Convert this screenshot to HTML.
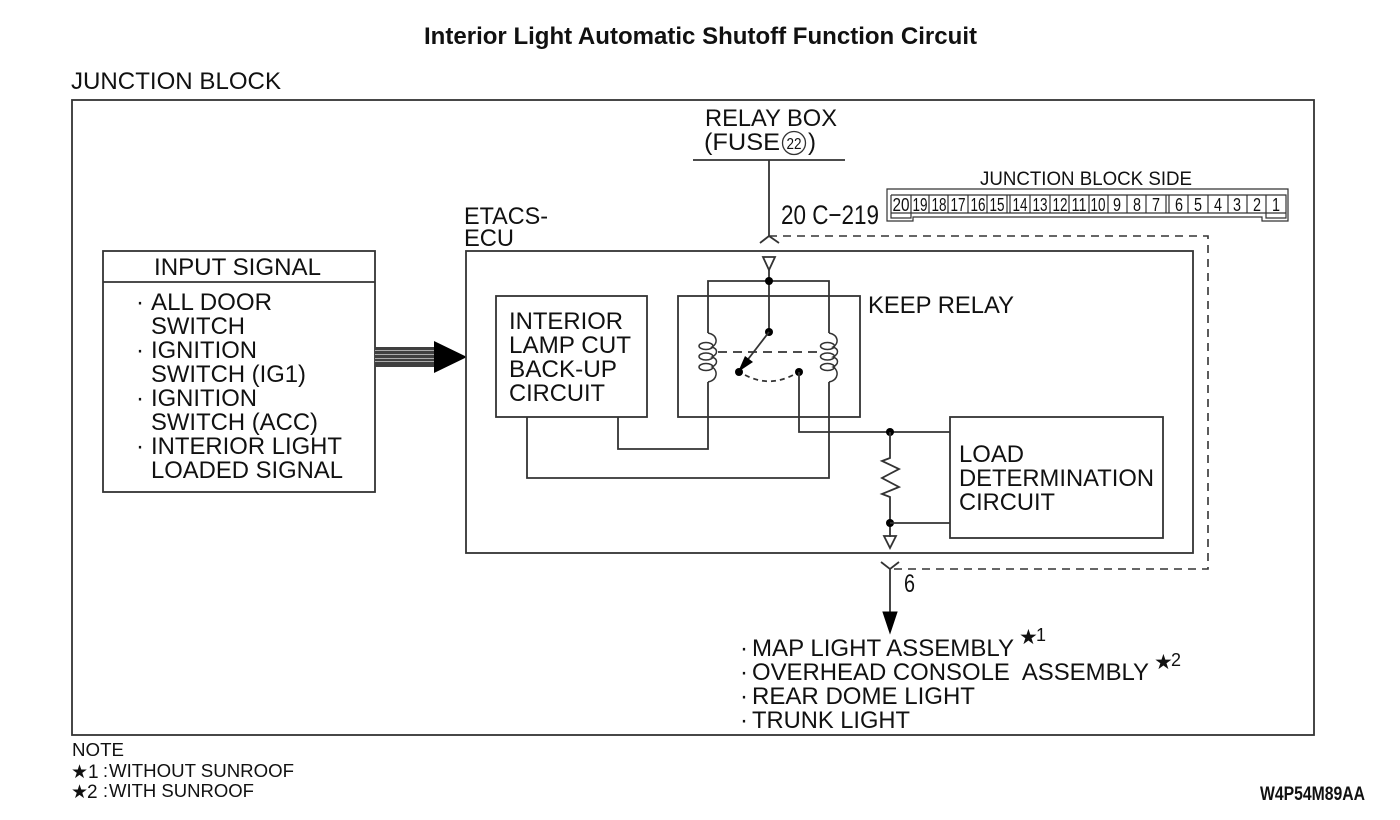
<!DOCTYPE html>
<html><head><meta charset="utf-8"><style>
html,body{margin:0;padding:0;background:#fff;width:1400px;height:820px;overflow:hidden}
svg{display:block}
text{font-family:"Liberation Sans",sans-serif;fill:#111}
.n{font-size:24px}
.s{font-size:19px}
.c{font-size:18px;text-anchor:middle}
.l{fill:none;stroke:#333;stroke-width:1.8}
.d{fill:none;stroke:#333;stroke-width:1.6;stroke-dasharray:8 6}
.st{font-family:"DejaVu Sans",sans-serif;fill:#111}
</style></head><body>
<svg width="1400" height="820" viewBox="0 0 1400 820" xmlns="http://www.w3.org/2000/svg">
<text x="424" y="44" font-size="24" font-weight="bold" textLength="553" lengthAdjust="spacingAndGlyphs">Interior Light Automatic Shutoff Function Circuit</text>
<text class="n" x="71" y="89" textLength="210" lengthAdjust="spacingAndGlyphs">JUNCTION BLOCK</text>
<rect class="l" x="72" y="100" width="1242" height="635"/>

<!-- relay box -->
<text class="n" x="705" y="126" textLength="132" lengthAdjust="spacingAndGlyphs">RELAY BOX</text>
<text class="n" x="704" y="150" textLength="76" lengthAdjust="spacingAndGlyphs">(FUSE</text>
<circle cx="794" cy="143" r="11.5" fill="none" stroke="#333" stroke-width="1.3"/>
<text x="794" y="149" font-size="16" text-anchor="middle" textLength="15" lengthAdjust="spacingAndGlyphs">22</text>
<text class="n" x="808" y="150">)</text>
<path class="l" d="M693 160H845M769 160V236"/>
<path class="l" d="M760 243L769 236L779 243"/>
<text x="781" y="224" font-size="27" textLength="98" lengthAdjust="spacingAndGlyphs">20 C−219</text>
<path class="d" d="M769 236H1208V569H890"/>

<!-- connector -->
<text class="s" x="980" y="185" textLength="212" lengthAdjust="spacingAndGlyphs">JUNCTION BLOCK SIDE</text>
<path fill="none" stroke="#333" stroke-width="1.2" d="M887 189H1288V221H1262V217H913V221H887Z"/>
<path fill="none" stroke="#333" stroke-width="1.2" d="M891 195H1286V213H1266V218H1286V213M911 213V218H891V195M891 213H911M911 213H1266M911 195V213M929 195V213M948 195V213M968 195V213M987 195V213M1007 195V213M1010 195V213M1030 195V213M1050 195V213M1069 195V213M1089 195V213M1108 195V213M1127 195V213M1146 195V213M1166 195V213M1169 195V213M1188 195V213M1208 195V213M1228 195V213M1247 195V213M1266 195V213"/>
<g>
<text class="c" x="901" y="211" textLength="17" lengthAdjust="spacingAndGlyphs">20</text>
<text class="c" x="920" y="211" textLength="15" lengthAdjust="spacingAndGlyphs">19</text>
<text class="c" x="939" y="211" textLength="15" lengthAdjust="spacingAndGlyphs">18</text>
<text class="c" x="958" y="211" textLength="15" lengthAdjust="spacingAndGlyphs">17</text>
<text class="c" x="978" y="211" textLength="15" lengthAdjust="spacingAndGlyphs">16</text>
<text class="c" x="997" y="211" textLength="15" lengthAdjust="spacingAndGlyphs">15</text>
<text class="c" x="1020" y="211" textLength="15" lengthAdjust="spacingAndGlyphs">14</text>
<text class="c" x="1040" y="211" textLength="15" lengthAdjust="spacingAndGlyphs">13</text>
<text class="c" x="1060" y="211" textLength="15" lengthAdjust="spacingAndGlyphs">12</text>
<text class="c" x="1079" y="211" textLength="15" lengthAdjust="spacingAndGlyphs">11</text>
<text class="c" x="1098" y="211" textLength="15" lengthAdjust="spacingAndGlyphs">10</text>
<text class="c" x="1117" y="211" textLength="8" lengthAdjust="spacingAndGlyphs">9</text>
<text class="c" x="1137" y="211" textLength="8" lengthAdjust="spacingAndGlyphs">8</text>
<text class="c" x="1156" y="211" textLength="8" lengthAdjust="spacingAndGlyphs">7</text>
<text class="c" x="1179" y="211" textLength="8" lengthAdjust="spacingAndGlyphs">6</text>
<text class="c" x="1198" y="211" textLength="8" lengthAdjust="spacingAndGlyphs">5</text>
<text class="c" x="1218" y="211" textLength="8" lengthAdjust="spacingAndGlyphs">4</text>
<text class="c" x="1237" y="211" textLength="8" lengthAdjust="spacingAndGlyphs">3</text>
<text class="c" x="1257" y="211" textLength="8" lengthAdjust="spacingAndGlyphs">2</text>
<text class="c" x="1276" y="211" textLength="8" lengthAdjust="spacingAndGlyphs">1</text>
</g>

<!-- input signal -->
<rect class="l" x="103" y="251" width="272" height="241"/>
<path class="l" d="M103 282H375"/>
<text class="n" x="154" y="275" textLength="167" lengthAdjust="spacingAndGlyphs">INPUT SIGNAL</text>
<text class="n" x="136" y="310">·</text>
<text class="n" x="151" y="310" textLength="121" lengthAdjust="spacingAndGlyphs">ALL DOOR</text>
<text class="n" x="151" y="334" textLength="94" lengthAdjust="spacingAndGlyphs">SWITCH</text>
<text class="n" x="136" y="358">·</text>
<text class="n" x="151" y="358" textLength="106" lengthAdjust="spacingAndGlyphs">IGNITION</text>
<text class="n" x="151" y="382" textLength="155" lengthAdjust="spacingAndGlyphs">SWITCH (IG1)</text>
<text class="n" x="136" y="406">·</text>
<text class="n" x="151" y="406" textLength="106" lengthAdjust="spacingAndGlyphs">IGNITION</text>
<text class="n" x="151" y="430" textLength="167" lengthAdjust="spacingAndGlyphs">SWITCH (ACC)</text>
<text class="n" x="136" y="454">·</text>
<text class="n" x="151" y="454" textLength="191" lengthAdjust="spacingAndGlyphs">INTERIOR LIGHT</text>
<text class="n" x="151" y="478" textLength="192" lengthAdjust="spacingAndGlyphs">LOADED SIGNAL</text>

<!-- bus arrow -->
<rect x="375" y="347" width="60" height="20" fill="#3f3f3f"/>
<path stroke="#aaa" stroke-width="1" d="M375 350.500H435M375 354.500H435M375 358.500H435M375 361.500H435"/>
<path d="M434 341L467 357L434 373Z" fill="#000"/>

<!-- ECU -->
<text class="n" x="464" y="224" textLength="84" lengthAdjust="spacingAndGlyphs">ETACS-</text>
<text class="n" x="464" y="246" textLength="50" lengthAdjust="spacingAndGlyphs">ECU</text>
<rect class="l" x="466" y="251" width="727" height="302"/>

<rect class="l" x="496" y="296" width="151" height="121"/>
<text class="n" x="509" y="329" textLength="114" lengthAdjust="spacingAndGlyphs">INTERIOR</text>
<text class="n" x="509" y="353" textLength="122" lengthAdjust="spacingAndGlyphs">LAMP CUT</text>
<text class="n" x="509" y="377" textLength="108" lengthAdjust="spacingAndGlyphs">BACK-UP</text>
<text class="n" x="509" y="401" textLength="96" lengthAdjust="spacingAndGlyphs">CIRCUIT</text>

<!-- keep relay -->
<rect class="l" x="678" y="296" width="182" height="121"/>
<text class="n" x="868" y="313" textLength="146" lengthAdjust="spacingAndGlyphs">KEEP RELAY</text>
<path class="l" d="M763 257H775L769 270Z"/>
<path class="l" d="M769 270V332M708 333V281H829V333"/>
<circle cx="769" cy="281" r="4" fill="#000"/>
<circle cx="769" cy="332" r="4" fill="#000"/>
<path class="l" d="M769 332L739 371"/>
<path d="M738 372L745 356L753 362Z" fill="#000"/>
<circle cx="739" cy="372" r="4" fill="#000"/>
<circle cx="799" cy="372" r="4" fill="#000"/>
<path class="l" d="M745 375Q770 388 795 374" stroke-dasharray="5 4"/>
<path class="l" d="M718 352H820" stroke-dasharray="9 6"/>
<!-- coils -->
<g fill="none" stroke="#333" stroke-width="1.5">
<path d="M708 333C718 335 718 344 712 347C718 349 718 354 712 357C718 359 718 364 712 367C718 370 718 380 708 382"/>
<ellipse cx="706" cy="346" rx="7" ry="3.500"/>
<ellipse cx="706" cy="356.500" rx="7" ry="3.500"/>
<ellipse cx="706" cy="367" rx="7" ry="3.500"/>
<path d="M829 333C839 335 839 344 833 347C839 349 839 354 833 357C839 359 839 364 833 367C839 370 839 380 829 382"/>
<ellipse cx="827.500" cy="346" rx="7" ry="3.500"/>
<ellipse cx="827.500" cy="356.500" rx="7" ry="3.500"/>
<ellipse cx="827.500" cy="367" rx="7" ry="3.500"/>
</g>
<path class="l" d="M708 382V449H618V417"/>
<path class="l" d="M829 382V478H527V417"/>
<path class="l" d="M799 372V432H950"/>
<circle cx="890" cy="432" r="4" fill="#000"/>
<path class="l" d="M890 432V458L882 461L899 469L882 478L899 487L882 494L890 497V537"/>
<circle cx="890" cy="523" r="4" fill="#000"/>
<path class="l" d="M890 523H950"/>
<path class="l" d="M884 536H896L890 548Z"/>

<rect class="l" x="950" y="417" width="213" height="121"/>
<text class="n" x="959" y="462" textLength="65" lengthAdjust="spacingAndGlyphs">LOAD</text>
<text class="n" x="959" y="486" textLength="195" lengthAdjust="spacingAndGlyphs">DETERMINATION</text>
<text class="n" x="959" y="510" textLength="96" lengthAdjust="spacingAndGlyphs">CIRCUIT</text>

<!-- output -->
<path class="l" d="M881 562L890 569L899 562M890 569V612"/>
<path d="M883 612H897L890 633Z" fill="#000" stroke="#000" stroke-width="1"/>
<text x="904" y="592" font-size="25" textLength="11" lengthAdjust="spacingAndGlyphs">6</text>
<text class="n" x="740" y="656">·</text>
<text class="n" x="752" y="656" textLength="262" lengthAdjust="spacingAndGlyphs">MAP LIGHT ASSEMBLY</text>
<text class="st" x="1019" y="644" font-size="21">★</text>
<text x="1036" y="641" font-size="18">1</text>
<text class="n" x="740" y="680">·</text>
<text class="n" x="752" y="680" textLength="397" lengthAdjust="spacingAndGlyphs" xml:space="preserve">OVERHEAD CONSOLE  ASSEMBLY</text>
<text class="st" x="1154" y="669" font-size="21">★</text>
<text x="1171" y="666" font-size="18">2</text>
<text class="n" x="740" y="704">·</text>
<text class="n" x="752" y="704" textLength="223" lengthAdjust="spacingAndGlyphs">REAR DOME LIGHT</text>
<text class="n" x="740" y="728">·</text>
<text class="n" x="752" y="728" textLength="158" lengthAdjust="spacingAndGlyphs">TRUNK LIGHT</text>

<!-- notes -->
<text x="72" y="756" font-size="18" textLength="52" lengthAdjust="spacingAndGlyphs">NOTE</text>
<text class="st" x="71" y="778" font-size="19">★</text>
<text x="88" y="778" font-size="19">1</text>
<text x="103" y="777" font-size="18">:</text>
<text x="109" y="777" font-size="18" textLength="185" lengthAdjust="spacingAndGlyphs">WITHOUT SUNROOF</text>
<text class="st" x="71" y="798" font-size="19">★</text>
<text x="87" y="798" font-size="19">2</text>
<text x="103" y="797" font-size="18">:</text>
<text x="109" y="797" font-size="18" textLength="145" lengthAdjust="spacingAndGlyphs">WITH SUNROOF</text>
<text x="1260" y="800" font-size="19" font-weight="bold" textLength="105" lengthAdjust="spacingAndGlyphs">W4P54M89AA</text>
</svg>
</body></html>
